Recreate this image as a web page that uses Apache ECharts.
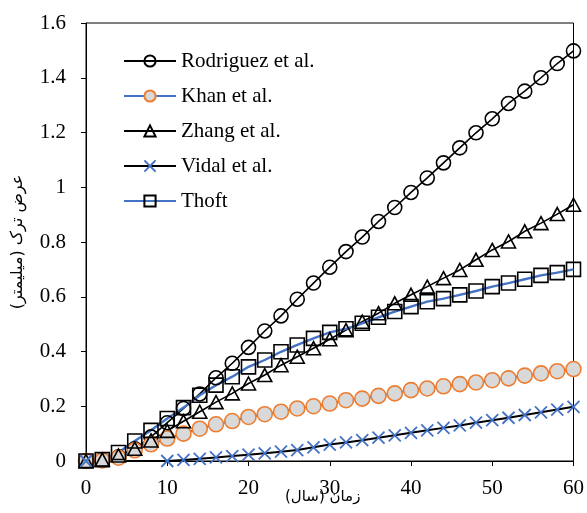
<!DOCTYPE html>
<html><head><meta charset="utf-8">
<script src="https://cdn.jsdelivr.net/npm/echarts@6/dist/echarts.min.js"></script>
<style>html,body{margin:0;padding:0;background:#fff}#c{width:587px;height:513px}</style>
</head><body><div id="c"></div>
<script>
const years = [0,2,4,6,8,10,12,14,16,18,20,22,24,26,28,30,32,34,36,38,40,42,44,46,48,50,52,54,56,58,60];
const rodriguez = [0,0.003,0.015,0.045,0.088,0.14,0.192,0.245,0.304,0.357,0.415,0.475,0.53,0.591,0.65,0.708,0.765,0.818,0.875,0.926,0.981,1.034,1.089,1.144,1.199,1.25,1.306,1.351,1.40,1.452,1.498];
const khan = [0,0.002,0.012,0.039,0.061,0.082,0.10,0.118,0.134,0.146,0.161,0.171,0.18,0.192,0.2,0.21,0.222,0.228,0.238,0.247,0.259,0.265,0.273,0.281,0.287,0.295,0.302,0.312,0.32,0.328,0.336];
const zhang = [0,0.005,0.02,0.045,0.075,0.11,0.145,0.18,0.215,0.247,0.283,0.314,0.35,0.381,0.412,0.445,0.478,0.509,0.54,0.576,0.607,0.637,0.668,0.698,0.735,0.771,0.802,0.839,0.869,0.902,0.936];
const vidal = [0,null,null,null,null,0,0.004,0.008,0.013,0.018,0.023,0.028,0.034,0.04,0.05,0.06,0.068,0.076,0.085,0.094,0.103,0.112,0.121,0.13,0.14,0.149,0.158,0.168,0.178,0.188,0.198];
const thoft = [0,0.005,0.031,0.073,0.112,0.155,0.195,0.24,0.277,0.308,0.344,0.369,0.399,0.424,0.448,0.47,0.483,0.503,0.525,0.546,0.564,0.582,0.593,0.607,0.621,0.637,0.65,0.664,0.678,0.688,0.70];
const names = ['Rodriguez et al.','Khan et al.','Zhang et al.','Vidal et al.','Thoft'];
const xName = 'زمان (سال)';
const yName = 'عرض ترک (میلیمتر)';

const pairs = v => years.map((x,i)=>[x, v[i]]);
const BLUE = '#4472C4', ORANGE = '#ED7D31', GRAY = '#D9D9D9';
const serif = 'Liberation Serif';
const X_PATH = 'path://M0,0L10,10M10,0L0,10';

const chart = echarts.init(document.getElementById('c'));
chart.setOption({
  animation:false,
  backgroundColor:'#fff',
  grid:{left:86,right:12,top:23,bottom:52,show:true,borderColor:'#000',borderWidth:1},
  legend:{
    orient:'vertical', left:118, top:45, itemWidth:52, itemHeight:14, itemGap:13,
    textStyle:{fontFamily:serif,fontSize:21,color:'#000',lineHeight:22},
    data:names
  },
  xAxis:{type:'value',min:0,max:60,interval:10,
    axisLine:{lineStyle:{color:'#000',width:1}},
    axisTick:{show:true,inside:false,length:5,lineStyle:{color:'#000'}},
    axisLabel:{fontFamily:serif,fontSize:21,color:'#000',margin:17},
    splitLine:{show:false}},
  yAxis:{type:'value',min:0,max:1.6,interval:0.2,
    name:yName,nameLocation:'middle',nameGap:60,nameRotate:90,
    nameTextStyle:{fontFamily:'DejaVu Sans',fontSize:16,color:'#000'},
    axisLine:{show:true,lineStyle:{color:'#000',width:1}},
    axisTick:{show:true,inside:false,length:5,lineStyle:{color:'#000'}},
    axisLabel:{fontFamily:serif,fontSize:21,color:'#000',margin:20},
    splitLine:{show:false}},
  graphic:[{type:'text',left:285,top:490,style:{text:xName,font:'15px "DejaVu Sans"',fill:'#000'}}],
  series:[
    {name:names[0],type:'line',data:pairs(rodriguez),clip:false,symbol:'circle',symbolSize:14,
      lineStyle:{color:'#000',width:1.6},itemStyle:{color:'rgba(0,0,0,0)',borderColor:'#000',borderWidth:1.6}},
    {name:names[1],type:'line',data:pairs(khan),clip:false,symbol:'circle',symbolSize:15,
      lineStyle:{color:BLUE,width:2},itemStyle:{color:GRAY,borderColor:ORANGE,borderWidth:1.6}},
    {name:names[2],type:'line',data:pairs(zhang),clip:false,symbol:'triangle',symbolSize:[14,13],
      lineStyle:{color:'#000',width:1.6},itemStyle:{color:'rgba(0,0,0,0)',borderColor:'#000',borderWidth:1.6}},
    {name:names[3],type:'line',data:pairs(vidal),connectNulls:true,clip:false,symbol:X_PATH,symbolSize:12,
      lineStyle:{color:'#000',width:2},itemStyle:{color:BLUE,borderColor:BLUE,borderWidth:1.8}},
    {name:names[4],type:'line',data:pairs(thoft),clip:false,symbol:'rect',symbolSize:14,
      lineStyle:{color:BLUE,width:2.4},itemStyle:{color:'rgba(0,0,0,0)',borderColor:'#000',borderWidth:1.6}}
  ]
});
</script></body></html>
